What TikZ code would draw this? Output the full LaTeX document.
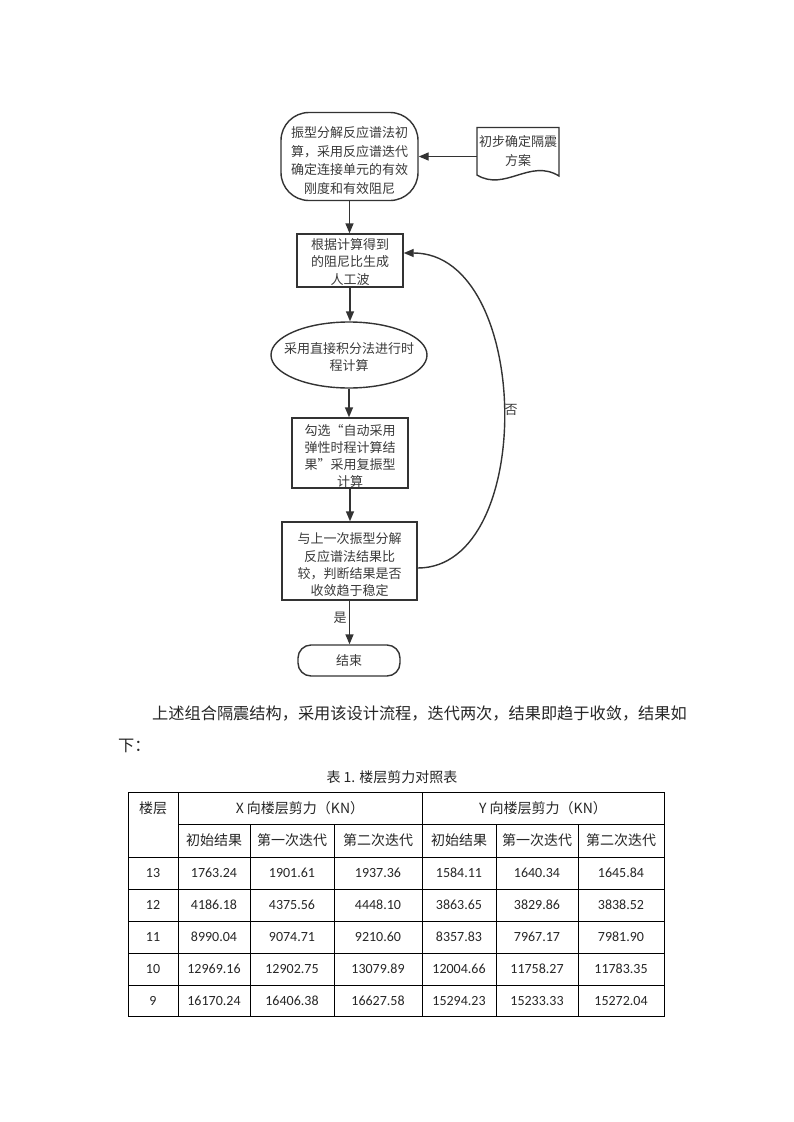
\documentclass[tikz,border=0pt]{standalone}
\usepackage{fontspec}
\newfontfamily\cjk{Noto Sans CJK SC}
\newfontfamily\numf{Carlito}
\usetikzlibrary{arrows.meta,shapes.geometric}
\definecolor{ln}{HTML}{333333}
\definecolor{tx}{HTML}{3A3A3A}
\tikzset{
  shp/.style={draw=ln, line width=1.4pt, inner sep=0pt},
  ftxt/.style={text=tx, align=center, inner sep=0pt,
     font=\cjk\fontsize{13}{17.3}\selectfont},
  conn/.style={draw=ln, line width=1.4pt, -{Triangle[length=10pt,width=8pt]}},
  lbl/.style={text=tx, font=\cjk\fontsize{13}{15}\selectfont, inner sep=0pt},
  tline/.style={draw=black, line width=0.8pt},
  thead/.style={font=\cjk\fontsize{14}{16}\selectfont, inner sep=0pt, text=black!85},
  tnum/.style={font=\numf\fontsize{14}{16}\selectfont, inner sep=0pt, text=black!85},
  para/.style={font=\cjk\fontsize{16.2}{18}\selectfont, inner sep=0pt, text=black!85}
}
\begin{document}
\begin{tikzpicture}[x=1pt,y=-1pt]
\useasboundingbox[fill=white] (0,0) rectangle (793,1122);
% flowchart shapes
\node[shp, rectangle, rounded corners=28pt, minimum width=137pt, minimum height=88pt] (top) at (349.5,156.5) {};
\node[ftxt, font=\cjk\fontsize{13}{18.5}\selectfont, yshift=-4pt] (topt) at (top)
  {振型分解反应谱法初\\算，采用反应谱迭代\\确定连接单元的有效\\刚度和有效阻尼};
\node[lbl, align=center, font=\cjk\fontsize{13}{19}\selectfont, minimum width=82pt, minimum height=48pt] (doc) at (518,151)
  {初步确定隔震\\方案};
\draw[draw=ln, line width=1.4pt] (477,175) -- (477,127.5) -- (559,127.5) -- (559,176)
   .. controls (530,158) and (505,192) .. (477,175) -- cycle;
\node[shp, minimum width=106pt, minimum height=53pt] (gen) at (350,260.5) {};
\node[ftxt, yshift=-1.5pt] (gent) at (gen) {根据计算得到\\的阻尼比生成\\人工波};
\node[shp, ellipse, minimum width=156pt, minimum height=66pt] (int) at (349,355) {};
\node[ftxt, font=\cjk\fontsize{13}{17}\selectfont, yshift=-2pt] (intt) at (int) {采用直接积分法进行时\\程计算};
\node[shp, minimum width=116pt, minimum height=70pt] (sel) at (350,453) {};
\node[ftxt, yshift=-3pt] (selt) at (sel) {勾选“自动采用\\弹性时程计算结\\果”采用复振型\\计算};
\node[shp, minimum width=135pt, minimum height=78pt] (cmp) at (349.5,561) {};
\node[ftxt, yshift=-4pt] (cmpt) at (cmp) {与上一次振型分解\\反应谱法结果比\\较，判断结果是否\\收敛趋于稳定};
\node[shp, rectangle, rounded corners=13pt, minimum width=102pt, minimum height=31pt] (end) at (349,660.5) {};
\node[ftxt] (endt) at (end) {结束};
% connectors
\draw[conn] (doc.west |- top.east) -- (top.east);
\draw[conn] (top.south) -- (top.south |- gen.north);
\draw[conn] (gen.south) -- (gen.south |- int.north);
\draw[conn] (int.south) -- (int.south |- sel.north);
\draw[conn] (sel.south) -- (sel.south |- cmp.north);
\draw[conn] (cmp.south) -- (cmp.south |- end.north);
\coordinate (cmpout) at (cmp.east |- 0,568);
\coordinate (genin) at (gen.east |- 0,253);
\draw[conn] (cmpout) .. controls (537,568) and (532,253) .. (genin);
\node[lbl] (no) at (511,410) {否};
\node[lbl] (yes) at (340,618) {是};
% paragraph
\node[para, anchor=west] (p1) at (152,714) {上述组合隔震结构，采用该设计流程，迭代两次，结果即趋于收敛，结果如};
\node[para, anchor=west] (p2) at (118,746) {下：};
\node[thead] (cap) at (392,777) {表 1. 楼层剪力对照表};
% table
\draw[tline] (128,792) rectangle (664,1016);
\draw[tline] (178,824) -- (664,824);
\foreach \y in {857,889,921,953,985} \draw[tline] (128,\y) -- (664,\y);
\draw[tline] (178,792) -- (178,1016);
\draw[tline] (422,792) -- (422,1016);
\foreach \x in {250,334,496,578} \draw[tline] (\x,824) -- (\x,1016);
\node[thead] (h0) at (153,808) {楼层};
\node[thead] (hx) at (300,808) {X 向楼层剪力（KN）};
\node[thead] (hy) at (543,808) {Y 向楼层剪力（KN）};
\foreach \t [count=\j] in {初始结果,第一次迭代,第二次迭代,初始结果,第一次迭代,第二次迭代}{
  \pgfmathsetmacro{\cx}{{0,214,292,378,459,537,621}[\j]}
  \node[thead] (s\j) at (\cx,840) {\t};
}
\foreach \row [count=\i] in {
  {13,1763.24,1901.61,1937.36,1584.11,1640.34,1645.84},
  {12,4186.18,4375.56,4448.10,3863.65,3829.86,3838.52},
  {11,8990.04,9074.71,9210.60,8357.83,7967.17,7981.90},
  {10,12969.16,12902.75,13079.89,12004.66,11758.27,11783.35},
  {9,16170.24,16406.38,16627.58,15294.23,15233.33,15272.04}}{
  \pgfmathsetmacro{\cy}{873+32*(\i-1)}
  \foreach \v [count=\j] in \row {
    \pgfmathsetmacro{\cx}{{153,214,292,378,459,537,621}[\j-1]}
    \node[tnum] (c\i-\j) at (\cx,\cy) {\v};
  }
}
\end{tikzpicture}
\end{document}
